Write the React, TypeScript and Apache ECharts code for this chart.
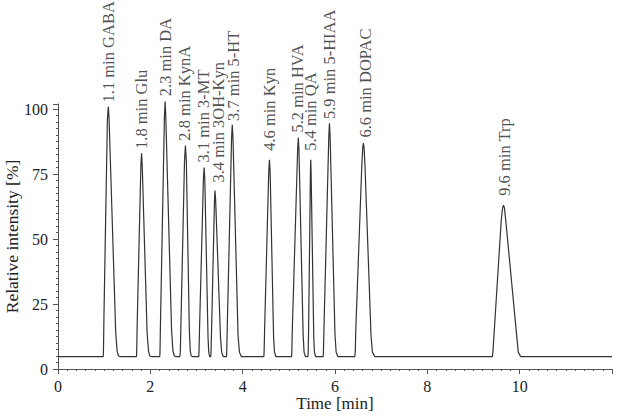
import React, { useEffect, useRef } from "react";
import * as echarts from "echarts";

// Chromatogram trace (time in min, relative intensity in %)
const traceTime = [
  0, 0.98, 0.985, 0.995, 1.07, 1.09, 1.105, 1.25, 1.28, 1.31, 1.34,
  1.70, 1.705, 1.715, 1.795, 1.81, 1.825, 1.93, 1.96, 1.99, 2.02,
  2.205, 2.21, 2.22, 2.305, 2.32, 2.335, 2.46, 2.49, 2.52, 2.55,
  2.64, 2.65, 2.66, 2.74, 2.76, 2.78, 2.845, 2.865, 2.885, 2.91,
  3.05, 3.055, 3.065, 3.15, 3.165, 3.18, 3.25, 3.265, 3.285,
  3.31, 3.315, 3.325, 3.39, 3.40, 3.415, 3.52, 3.545, 3.58,
  3.65, 3.655, 3.665, 3.76, 3.775, 3.79, 3.9, 3.93, 3.97,
  4.46, 4.465, 4.475, 4.565, 4.58, 4.595, 4.67, 4.69, 4.72,
  5.06, 5.065, 5.075, 5.19, 5.205, 5.22, 5.31, 5.33, 5.36,
  5.415, 5.42, 5.428, 5.468, 5.475, 5.482, 5.54, 5.555, 5.58,
  5.745, 5.75, 5.76, 5.865, 5.88, 5.895, 6.0, 6.025, 6.06,
  6.43, 6.44, 6.45, 6.58, 6.60, 6.615, 6.63, 6.65, 6.78, 6.81, 6.86,
  9.41, 9.42, 9.44, 9.6, 9.63, 9.65, 9.67, 9.70, 9.94, 9.97, 10.02,
  12,
];
const traceIntensity = [
  4.8, 4.8, 7, 20, 96, 101, 97, 14, 7, 5.0, 4.8,
  4.8, 7, 17, 78, 83, 78, 14, 7, 5, 4.8,
  4.8, 7, 18, 97, 103, 97, 15, 7, 5, 4.8,
  4.8, 7, 15, 80, 86, 80, 15, 7, 5, 4.8,
  4.8, 7, 15, 73, 77.5, 73, 12, 6.5, 4.8,
  4.8, 7, 14, 65, 68.7, 65, 12, 6.5, 4.8,
  4.8, 7, 15, 89, 94, 89, 13, 6.5, 4.8,
  4.8, 7, 15, 76, 80.5, 76, 12, 6.5, 4.8,
  4.8, 7, 15, 84, 89, 84, 13, 6.5, 4.8,
  4.8, 7, 15, 76, 80.5, 76, 12, 6.5, 4.8,
  4.8, 7, 15, 89, 94.6, 89, 13, 6.5, 4.8,
  4.8, 7, 15, 78, 85, 87, 85, 78, 13, 6.5, 4.8,
  4.8, 6.5, 12, 57, 62, 63, 62, 57, 12, 6.5, 4.8,
  4.8,
];

// Peak annotations (label anchor = bottom of each vertical label)
const peakNames = [
  "1.1 min GABA", "1.8 min Glu", "2.3 min DA", "2.8 min KynA", "3.1 min 3-MT",
  "3.4 min 3OH-Kyn", "3.7 min 5-HT", "4.6 min Kyn", "5.2 min HVA", "5.4 min QA",
  "5.9 min 5-HIAA", "6.6 min DOPAC", "9.6 min Trp",
];
const labelTime = [1.09, 1.81, 2.32, 2.75, 3.16, 3.47, 3.8, 4.58, 5.19, 5.47, 5.89, 6.65, 9.68];
const labelHeight = [102.2, 84.3, 104.6, 87.5, 79.1, 71.4, 95.1, 83.6, 90.6, 83.6, 95.8, 88.7, 66.3];

const xTicks = [0, 2, 4, 6, 8, 10];
const yTicks = [0, 25, 50, 75, 100];

const FONT = "Liberation Serif";

export default function App() {
  const ref = useRef<HTMLDivElement>(null);
  useEffect(() => {
    if (!ref.current) return;
    const chart = echarts.init(ref.current, null, { renderer: "svg" });
    const line = traceTime.map((t, i) => [t, traceIntensity[i]]);
    const labels = peakNames.map((n, i) => ({ value: [labelTime[i], labelHeight[i]], name: n }));
    const axisColor = "#555";
    chart.setOption({
      animation: false,
      backgroundColor: "#fff",
      textStyle: { fontFamily: FONT },
      grid: { left: 58, right: 10, top: 104, bottom: 49, containLabel: false, outerBoundsMode: "none" },
      xAxis: {
        type: "value",
        min: 0,
        max: 12,
        interval: 2,
        name: "Time [min]",
        nameLocation: "middle",
        nameGap: 26,
        nameMoveOverlap: false,
        nameTextStyle: { fontFamily: FONT, fontSize: 17, color: "#222" },
        axisLine: { lineStyle: { color: axisColor, width: 1 } },
        axisTick: { show: true, length: 5, lineStyle: { color: axisColor } },
        minorTick: { show: true, splitNumber: 10, length: 2, lineStyle: { color: axisColor } },
        axisLabel: {
          fontFamily: FONT,
          fontSize: 16,
          color: "#222",
          margin: 9,
          showMaxLabel: false,
          formatter: (v: number) => (xTicks.includes(v) ? String(v) : ""),
        },
        splitLine: { show: false },
      },
      yAxis: {
        type: "value",
        min: 0,
        max: 102,
        interval: 25,
        name: "Relative intensity [%]",
        nameLocation: "middle",
        nameGap: 37,
        nameMoveOverlap: false,
        nameTextStyle: { fontFamily: FONT, fontSize: 17.5, color: "#222" },
        axisLine: { show: true, lineStyle: { color: axisColor, width: 1 } },
        axisTick: { show: true, length: 5, lineStyle: { color: axisColor } },
        minorTick: { show: true, splitNumber: 10, length: 2, lineStyle: { color: axisColor } },
        axisLabel: {
          fontFamily: FONT,
          fontSize: 16,
          color: "#222",
          margin: 10,
          showMaxLabel: false,
          formatter: (v: number) => (yTicks.includes(v) ? String(v) : ""),
        },
        splitLine: { show: false },
      },
      series: [
        {
          type: "line",
          data: line,
          showSymbol: false,
          symbol: "none",
          clip: false,
          lineStyle: { color: "#333", width: 1.2 },
        },
        {
          type: "scatter",
          data: labels,
          symbolSize: 0,
          silent: true,
          clip: false,
          label: {
            show: true,
            position: "top",
            distance: 1,
            rotate: 90,
            align: "left",
            verticalAlign: "middle",
            formatter: (p: any) => p.name,
            fontFamily: FONT,
            fontSize: 16.5,
            color: "#222",
          },
        },
      ],
    });
    return () => chart.dispose();
  }, []);
  return (
    <div
      ref={ref}
      style={{ position: "fixed", left: 0, top: 0, width: 622, height: 418, background: "#fff" }}
    />
  );
}
